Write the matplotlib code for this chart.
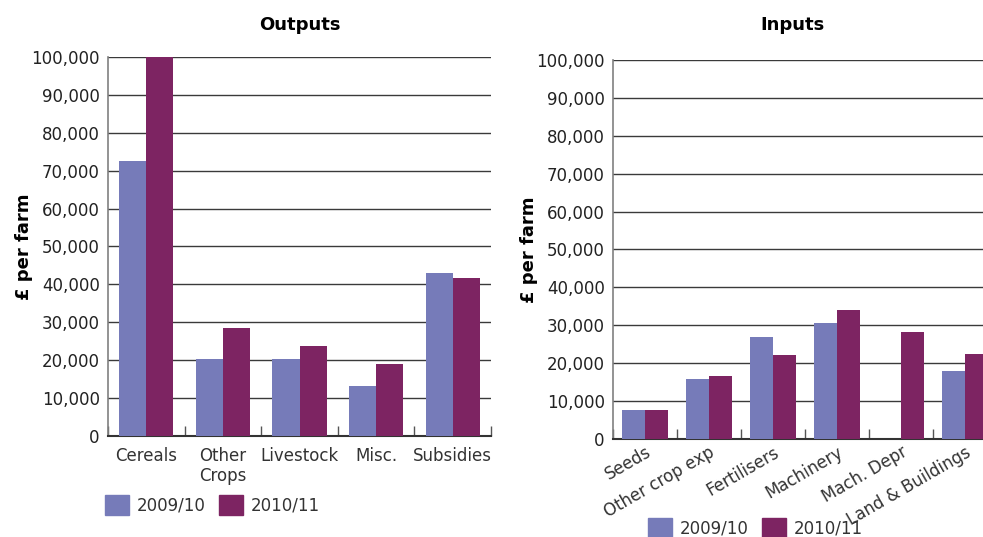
import numpy as np
import matplotlib
matplotlib.use("Agg")
from matplotlib import pyplot as plt
from matplotlib.patches import Patch
from matplotlib.ticker import FuncFormatter, FixedLocator

# farm business outputs and inputs, £ per farm
out_cats = ["Cereals", "Other\nCrops", "Livestock", "Misc.", "Subsidies"]
out_0910 = [72500, 20200, 20300, 13200, 43000]
out_1011 = [100000, 28500, 23700, 19000, 41700]

in_cats = ["Seeds", "Other crop exp", "Fertilisers", "Machinery", "Mach. Depr", "Land & Buildings"]
in_0910 = [7600, 15800, 26900, 30600, 0, 17900]
in_1011 = [7600, 16600, 22100, 34000, 28200, 22400]

years = ["2009/10", "2010/11"]
c_blue = "#767bb9"
c_plum = "#7d2462"
txt = "#222222"

plt.rcParams["font.family"] = "DejaVu Sans"

fig = plt.figure(figsize=(9.83, 5.37), dpi=100)
ax1 = fig.add_axes([0.1099, 0.188, 0.3896, 0.706])
ax2 = fig.add_axes([0.6236, 0.1825, 0.3906, 0.7058])

thousands = FuncFormatter(lambda v, p: f"{int(v):,}")


def draw_panel(ax, cats, a, b, bw, rot):
    x = np.arange(len(cats))
    ax.bar(x - bw / 2, a, bw, color=c_blue, zorder=3)
    ax.bar(x + bw / 2, b, bw, color=c_plum, zorder=3)
    ax.set_xlim(-0.5, len(cats) - 0.5)
    ax.set_ylim(0, 100000)
    ax.yaxis.set_major_locator(FixedLocator(np.arange(0, 100001, 10000)))
    ax.yaxis.set_major_formatter(thousands)
    ax.grid(axis="y", color="#3a3a3a", lw=1.0, zorder=1)
    ax.set_axisbelow(True)
    for s in ("top", "right"):
        ax.spines[s].set_visible(False)
    ax.spines["left"].set_color("#808080")
    ax.spines["left"].set_linewidth(1.2)
    ax.spines["bottom"].set_color("#333333")
    ax.spines["bottom"].set_linewidth(1.5)
    ax.tick_params(axis="y", length=0, pad=6, labelsize=12, labelcolor=txt)
    ax.set_xticks(x)
    ax.set_xticks(np.arange(len(cats) + 1) - 0.5, minor=True)
    ax.tick_params(axis="x", which="major", length=0, labelsize=12, labelcolor="#333333")
    ax.tick_params(axis="x", which="minor", direction="in", length=7, color="#555555", width=1)
    if rot:
        ax.set_xticklabels(cats, rotation=rot, ha="right", rotation_mode="anchor")
    else:
        ax.set_xticklabels(cats, linespacing=1.15)
    ax.set_ylabel("£ per farm", fontsize=13, fontweight="bold", color="black", labelpad=-1)


draw_panel(ax1, out_cats, out_0910, out_1011, 0.353, 0)
ax1.tick_params(axis="x", which="major", pad=8)
draw_panel(ax2, in_cats, in_0910, in_1011, 0.36, 30)
ax2.tick_params(axis="x", which="major", pad=3)

fig.text(300 / 983, 1 - 25 / 537, "Outputs", ha="center", va="center",
         fontsize=13, fontweight="bold")
fig.text(792 / 983, 1 - 25 / 537, "Inputs", ha="center", va="center",
         fontsize=13, fontweight="bold")

handles = [Patch(color=c_blue), Patch(color=c_plum)]
for x0, y0 in [(102 / 983, 1 - 492 / 537), (645 / 983, 1 - 515 / 537)]:
    fig.legend(handles, years, loc="upper left", bbox_to_anchor=(x0, y0), ncol=2,
               frameon=False, fontsize=12, handlelength=1.4, handleheight=1.4,
               handletextpad=0.5, columnspacing=0.8, labelcolor="#333333",
               borderaxespad=0, borderpad=0.2)

fig.savefig("out.png", dpi=100)
